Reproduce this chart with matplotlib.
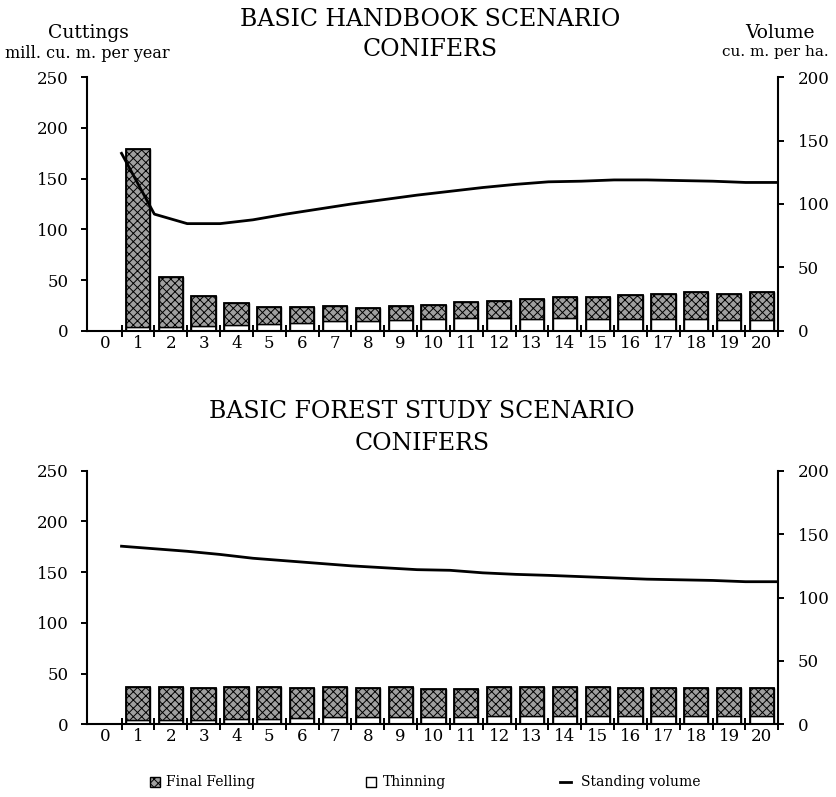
import matplotlib
matplotlib.use("Agg")
import matplotlib.pyplot as plt
from matplotlib.patches import Rectangle
from matplotlib.lines import Line2D
import numpy as np

plt.rcParams['font.family'] = ['DejaVu Serif']
plt.rcParams['hatch.linewidth'] = 0.7

# Periods (1..20) and standing-volume points at period boundaries (0.5..20.5)
periods = list(range(1, 21))
volume_points = [p - 0.5 for p in range(1, 22)]
x_tick_labels = [str(i) for i in range(0, 21)]

# Basic handbook scenario, conifers (mill. cu. m. per year)
hb_thinning = [4, 4, 5, 6, 7, 8, 9.5, 9.5, 10.5, 11.5, 13, 13, 12, 13, 12, 12, 12, 11.5, 10.5, 10.5]
hb_final = [175, 49, 29, 21, 16.5, 15, 15, 13, 14, 14, 15.5, 16.5, 19, 20.5, 21.5, 23, 24.5, 26.5, 26, 27.5]
# Standing volume, cu. m. per ha.
hb_volume = [140, 92, 84.5, 84.5, 87.5, 92, 96, 100, 103.5, 107, 110, 113, 115.5, 117.5, 118, 119, 119, 118.5, 118, 117, 117]

# Basic forest study scenario, conifers
fs_thinning = [4, 4, 4, 5, 5, 6, 7.5, 7.5, 7.5, 7.5, 7.5, 8.5, 8.5, 8.5, 8.5, 8.5, 8.5, 8.5, 8.5, 8.5]
fs_final = [33, 33, 31.5, 32, 32, 29.5, 29.5, 28.5, 29.5, 27.5, 27.5, 28.5, 28.5, 28.5, 28.5, 27.5, 27.5, 27.5, 27.5, 27.5]
fs_volume = [140.5, 138.5, 136.5, 134, 131, 129, 127, 125, 123.5, 122, 121.5, 119.5, 118.3, 117.5, 116.5, 115.5, 114.5, 114, 113.5, 112.5, 112.5]

left_ticks = [0, 50, 100, 150, 200, 250]
right_ticks = [0, 50, 100, 150, 200]

FELL_FACE = '#a0a0a0'
TICK_SIZE = 12

fig = plt.figure(figsize=(8.37, 7.97), dpi=100)


def draw_panel(rect, thinning, final, volume):
    ax = fig.add_axes(rect)
    x = np.array(periods)
    ax.bar(x, thinning, width=0.74, color='white', edgecolor='black', linewidth=1.0, zorder=2)
    ax.bar(x, final, width=0.74, bottom=thinning, color=FELL_FACE, edgecolor='black',
           hatch='xxxx', linewidth=1.0, zorder=2)
    # outline over the stacked pair
    ax.bar(x, np.array(thinning) + np.array(final), width=0.74, color='none',
           edgecolor='black', linewidth=1.3, zorder=3)

    ax.set_xlim(-0.56, 20.5)
    ax.set_ylim(0, 250)
    ax.set_xticks(range(0, 21))
    ax.set_xticklabels(x_tick_labels, fontsize=TICK_SIZE)
    ax.set_xticks(np.arange(0.5, 20.6, 1.0), minor=True)
    ax.tick_params(axis='x', which='major', length=0, pad=3)
    ax.tick_params(axis='x', which='minor', direction='inout', length=9, width=1.4)
    ax.set_yticks(left_ticks)
    ax.set_yticklabels([str(v) for v in left_ticks], fontsize=TICK_SIZE)
    ax.tick_params(axis='y', which='major', direction='out', length=4, width=1.4, pad=9)
    ax.set_yticks([250], minor=True)
    ax.tick_params(axis='y', which='minor', direction='in', length=4, width=1.4)
    for s in ('top', 'right'):
        ax.spines[s].set_visible(False)
    for s in ('left', 'bottom'):
        ax.spines[s].set_linewidth(1.5)

    ax2 = ax.twinx()
    ax2.plot(volume_points, volume, color='black', linewidth=2.0, zorder=4)
    ax2.set_ylim(0, 200)
    ax2.set_yticks(right_ticks)
    ax2.set_yticklabels([str(v) for v in right_ticks], fontsize=TICK_SIZE)
    ax2.tick_params(axis='y', which='major', direction='out', length=4, width=1.4, pad=10)
    ax2.set_yticks([200], minor=True)
    ax2.tick_params(axis='y', which='minor', direction='in', length=4, width=1.4)
    for s in ('top', 'left', 'bottom'):
        ax2.spines[s].set_visible(False)
    ax2.spines['right'].set_linewidth(1.5)
    return ax, ax2


draw_panel([0.1036, 0.5851, 0.8263, 0.3179], hb_thinning, hb_final, hb_volume)
draw_panel([0.1036, 0.0912, 0.8263, 0.3181], fs_thinning, fs_final, fs_volume)

H = 797.0
W = 837.0


def ftext(px, py, s, size, ha='center'):
    fig.text(px / W, 1 - py / H, s, fontsize=size, ha=ha, va='center')


ftext(430, 20, 'BASIC HANDBOOK SCENARIO', 17)
ftext(430, 49, 'CONIFERS', 17)
ftext(422, 411, 'BASIC FOREST STUDY SCENARIO', 17)
ftext(422, 443, 'CONIFERS', 17)

ftext(88, 33, 'Cuttings', 13.5)
ftext(87, 54, 'mill. cu. m. per year', 11.5)
ftext(780, 33, 'Volume', 13.5)
ftext(775, 52, 'cu. m. per ha.', 11)

# legend row
ly = 1 - 782 / H
sq_w, sq_h = 10 / W, 10 / H
fig.add_artist(Rectangle((150 / W, ly - sq_h / 2), sq_w, sq_h, transform=fig.transFigure,
                         facecolor=FELL_FACE, edgecolor='black', hatch='xxxx', linewidth=1.0))
ftext(166, 782, 'Final Felling', 10, ha='left')
fig.add_artist(Rectangle((366 / W, ly - sq_h / 2), sq_w, sq_h, transform=fig.transFigure,
                         facecolor='white', edgecolor='black', linewidth=1.0))
ftext(383, 782, 'Thinning', 10, ha='left')
fig.add_artist(Line2D([560 / W, 571 / W], [ly, ly], transform=fig.transFigure,
                      color='black', linewidth=2.0))
ftext(581, 782, 'Standing volume', 10, ha='left')

fig.savefig('out.png', dpi=100)
